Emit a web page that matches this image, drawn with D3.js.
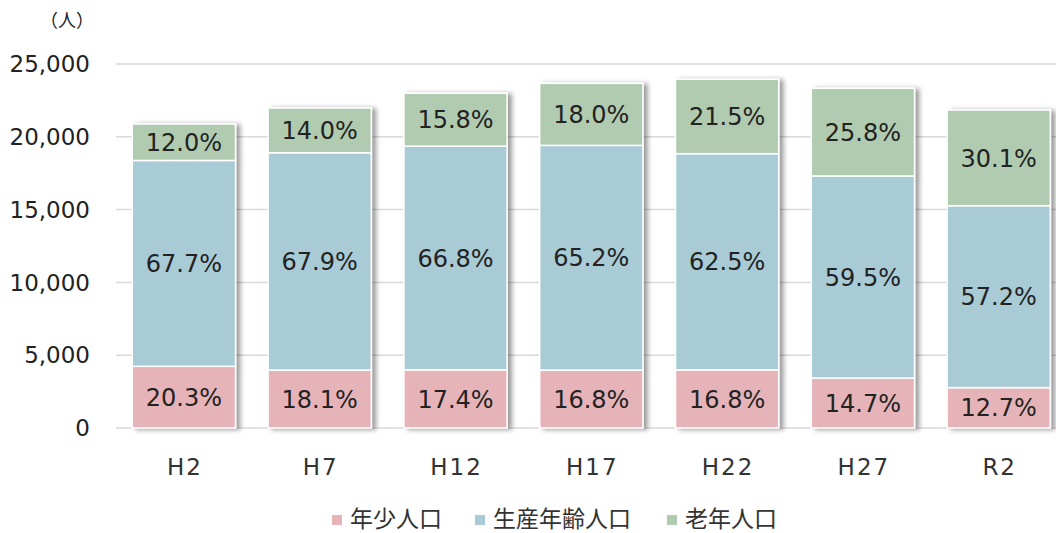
<!DOCTYPE html>
<html>
<head>
<meta charset="utf-8">
<script src="https://cdn.jsdelivr.net/npm/d3@7"></script>
<style>
  html, body { margin: 0; padding: 0; background: #fff; overflow: hidden; }
  svg { display: block; }
  text { font-family: "DejaVu Sans", Verdana, sans-serif; fill: #222; }
  .jp { font-family: "Noto Sans CJK JP", sans-serif; }
</style>
</head>
<body>
<div id="chart"></div>
<script>
"use strict";

// == DATA ==
var years = ["H2", "H7", "H12", "H17", "H22", "H27", "R2"];
var totals = [20880, 21980, 22990, 23670, 23950, 23330, 21840];
var youngPct = [20.3, 18.1, 17.4, 16.8, 16.8, 14.7, 12.7];
var workPct = [67.7, 67.9, 66.8, 65.2, 62.5, 59.5, 57.2];
var oldPct = [12.0, 14.0, 15.8, 18.0, 21.5, 25.8, 30.1];
var seriesNames = ["年少人口", "生産年齢人口", "老年人口"];
var yTicks = [0, 5000, 10000, 15000, 20000, 25000];

var colors = ["#e6b4b8", "#a8cbd6", "#b0cbb0"];

var width = 1056, height = 533;

var svg = d3.select("#chart")
  .append("svg")
  .attr("width", width)
  .attr("height", height);

// shadow for the bars
var defs = svg.append("defs");
var f = defs.append("filter")
  .attr("id", "shadow")
  .attr("x", "-10%").attr("y", "-10%")
  .attr("width", "130%").attr("height", "130%");
f.append("feDropShadow")
  .attr("dx", 4).attr("dy", 1)
  .attr("stdDeviation", 2.5)
  .attr("flood-color", "#000")
  .attr("flood-opacity", 0.4);

// build rows for the stack
var rows = years.map(function(y, i) {
  var sum = youngPct[i] + workPct[i] + oldPct[i];
  return {
    year: y,
    pct: [youngPct[i], workPct[i], oldPct[i]],
    s0: totals[i] * youngPct[i] / sum,
    s1: totals[i] * workPct[i] / sum,
    s2: totals[i] * oldPct[i] / sum
  };
});

var stack = d3.stack().keys(["s0", "s1", "s2"]);
var layers = stack(rows);

var x = d3.scaleBand()
  .domain(years)
  .range([116, 116 + 7 * 135.8])
  .paddingInner(0.24)
  .paddingOuter(0.12);

var y = d3.scaleLinear()
  .domain([0, 25000])
  .range([428, 64]);

// gridlines
svg.append("g")
  .selectAll("line")
  .data(yTicks)
  .enter()
  .append("line")
  .attr("x1", 116)
  .attr("x2", width)
  .attr("y1", function(d) { return y(d); })
  .attr("y2", function(d) { return y(d); })
  .attr("stroke", "#d9d9d9")
  .attr("stroke-width", 1.5);

// y axis labels
var fmt = d3.format(",");
svg.append("g")
  .selectAll("text")
  .data(yTicks)
  .enter()
  .append("text")
  .attr("x", 90)
  .attr("y", function(d) { return y(d); })
  .attr("dy", "0.36em")
  .attr("text-anchor", "end")
  .style("font-size", "23px")
  .text(function(d) { return fmt(d); });

// unit
svg.append("text")
  .attr("class", "jp")
  .attr("x", 67)
  .attr("y", 21)
  .attr("dy", "0.36em")
  .attr("text-anchor", "middle")
  .style("font-size", "18px")
  .text("（人）");

// bars
var bars = svg.append("g").attr("filter", "url(#shadow)");
layers.forEach(function(layer, k) {
  bars.selectAll(".seg" + k)
    .data(layer)
    .enter()
    .append("rect")
    .attr("class", "seg" + k)
    .attr("x", function(d) { return x(d.data.year); })
    .attr("width", x.bandwidth())
    .attr("y", function(d) { return y(d[1]); })
    .attr("height", function(d) { return y(d[0]) - y(d[1]); })
    .attr("fill", colors[k])
    .attr("stroke", "#fff")
    .attr("stroke-width", 1.5);
});

// segment labels
layers.forEach(function(layer, k) {
  svg.append("g")
    .selectAll("text")
    .data(layer)
    .enter()
    .append("text")
    .attr("x", function(d) { return x(d.data.year) + x.bandwidth() / 2; })
    .attr("y", function(d) { return (y(d[0]) + y(d[1])) / 2; })
    .attr("dy", "0.36em")
    .attr("text-anchor", "middle")
    .style("font-size", "24px")
    .text(function(d) { return d.data.pct[k].toFixed(1) + "%"; });
});

// x labels
svg.append("g")
  .selectAll("text")
  .data(years)
  .enter()
  .append("text")
  .attr("x", function(d) { return x(d) + x.bandwidth() / 2 + 1; })
  .attr("y", 467)
  .attr("dy", "0.36em")
  .attr("text-anchor", "middle")
  .style("font-size", "23px")
  .style("letter-spacing", "2px")
  .style("fill", "#333")
  .text(function(d) { return d; });

// legend (sits right at the bottom edge, like the original)
var legendX = [332, 475, 667];
var lg = svg.append("g");
seriesNames.forEach(function(name, i) {
  lg.append("rect")
    .attr("x", legendX[i])
    .attr("y", 515)
    .attr("width", 10)
    .attr("height", 10)
    .attr("fill", colors[i]);
  lg.append("text")
    .attr("class", "jp")
    .attr("x", legendX[i] + 18)
    .attr("y", 519)
    .attr("dy", "0.36em")
    .style("font-size", "23px")
    .style("fill", "#333")
    .text(name);
});
</script>
</body>
</html>
